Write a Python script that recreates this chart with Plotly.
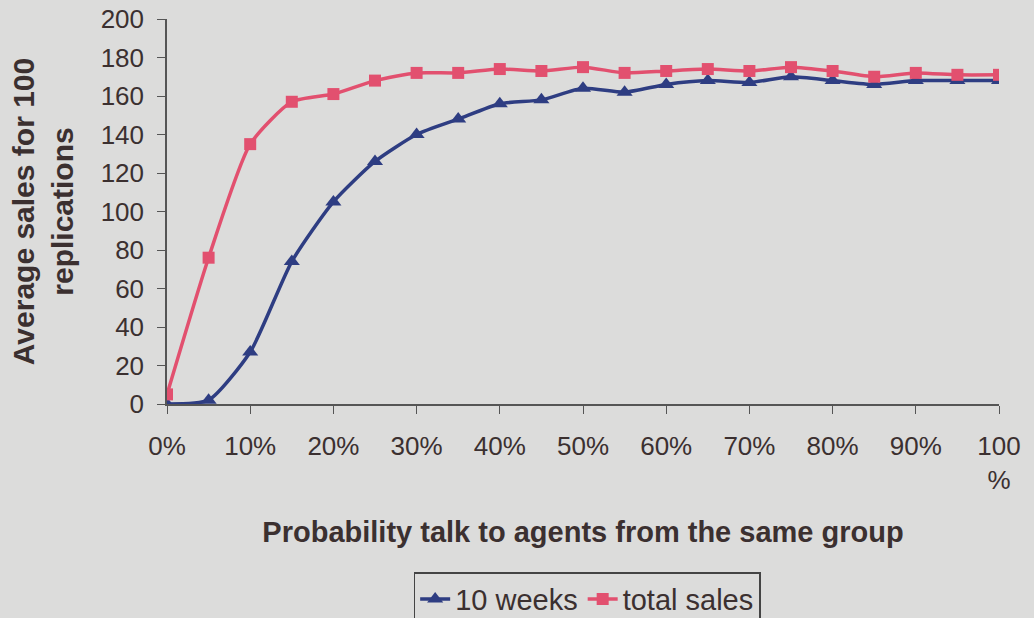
import plotly.graph_objects as go

# Probability (%) of talking to agents from the same group
prob = [0, 5, 10, 15, 20, 25, 30, 35, 40, 45, 50, 55, 60, 65, 70, 75, 80, 85, 90, 95, 100]

# Average sales over 100 replications
weeks10 = [0, 2, 27, 74, 105, 126, 140, 148, 156, 158, 164, 162, 166, 168, 167, 170, 168, 166, 168, 168, 168]
total_sales = [5, 76, 135, 157, 161, 168, 172, 172, 174, 173, 175, 172, 173, 174, 173, 175, 173, 170, 172, 171, 171]

tick_vals = [0, 10, 20, 30, 40, 50, 60, 70, 80, 90, 100]
tick_text = ["0%", "10%", "20%", "30%", "40%", "50%", "60%", "70%", "80%", "90%", "100<br>%"]

BLUE = "#2e3d82"
RED = "#e2506f"
BG = "#dcdcdb"
TXT = "#3b3030"
FONT = "Liberation Sans, Arial, sans-serif"

fig = go.Figure()
fig.add_trace(go.Scatter(
    x=prob, y=weeks10, name="10 weeks", mode="lines+markers",
    line=dict(color=BLUE, width=3.5, shape="spline", smoothing=0.6),
    marker=dict(symbol="triangle-up", size=14, color=BLUE),
))
fig.add_trace(go.Scatter(
    x=prob, y=total_sales, name="total sales", mode="lines+markers",
    line=dict(color=RED, width=3.5, shape="spline", smoothing=0.6),
    marker=dict(symbol="square", size=12, color=RED),
))

fig.update_layout(
    width=1034, height=618,
    margin=dict(l=167, r=35, t=19, b=214, autoexpand=False),
    paper_bgcolor=BG, plot_bgcolor=BG,
    font=dict(family=FONT, size=26, color=TXT),
    showlegend=True,
    legend=dict(
        orientation="h", x=0.505, xanchor="center", y=-0.437, yanchor="top",
        bgcolor=BG, bordercolor="#444", borderwidth=1.5,
        font=dict(size=29, color=TXT), itemwidth=30, tracegroupgap=0,
    ),
)
fig.update_xaxes(
    range=[0, 100], tickvals=tick_vals, ticktext=tick_text,
    showgrid=False, zeroline=False,
    showline=True, linecolor="#555", linewidth=1.5,
    ticks="outside", ticklen=8, tickcolor="#555",
    ticklabelstandoff=10,
    tickfont=dict(size=26, color=TXT),
    title=dict(text="<b>Probability talk to agents from the same group</b>",
               font=dict(size=29, color=TXT), standoff=28),
)
fig.update_yaxes(
    range=[0, 200], dtick=20,
    showgrid=False, zeroline=False,
    showline=True, linecolor="#555", linewidth=1.5,
    ticks="outside", ticklen=8, tickcolor="#555",
    ticklabelstandoff=8,
    tickfont=dict(size=26, color=TXT),
    title=dict(text="<b>Average sales for 100<br>replications</b>",
               font=dict(size=30, color=TXT), standoff=18),
)

fig.write_html("out.html")
